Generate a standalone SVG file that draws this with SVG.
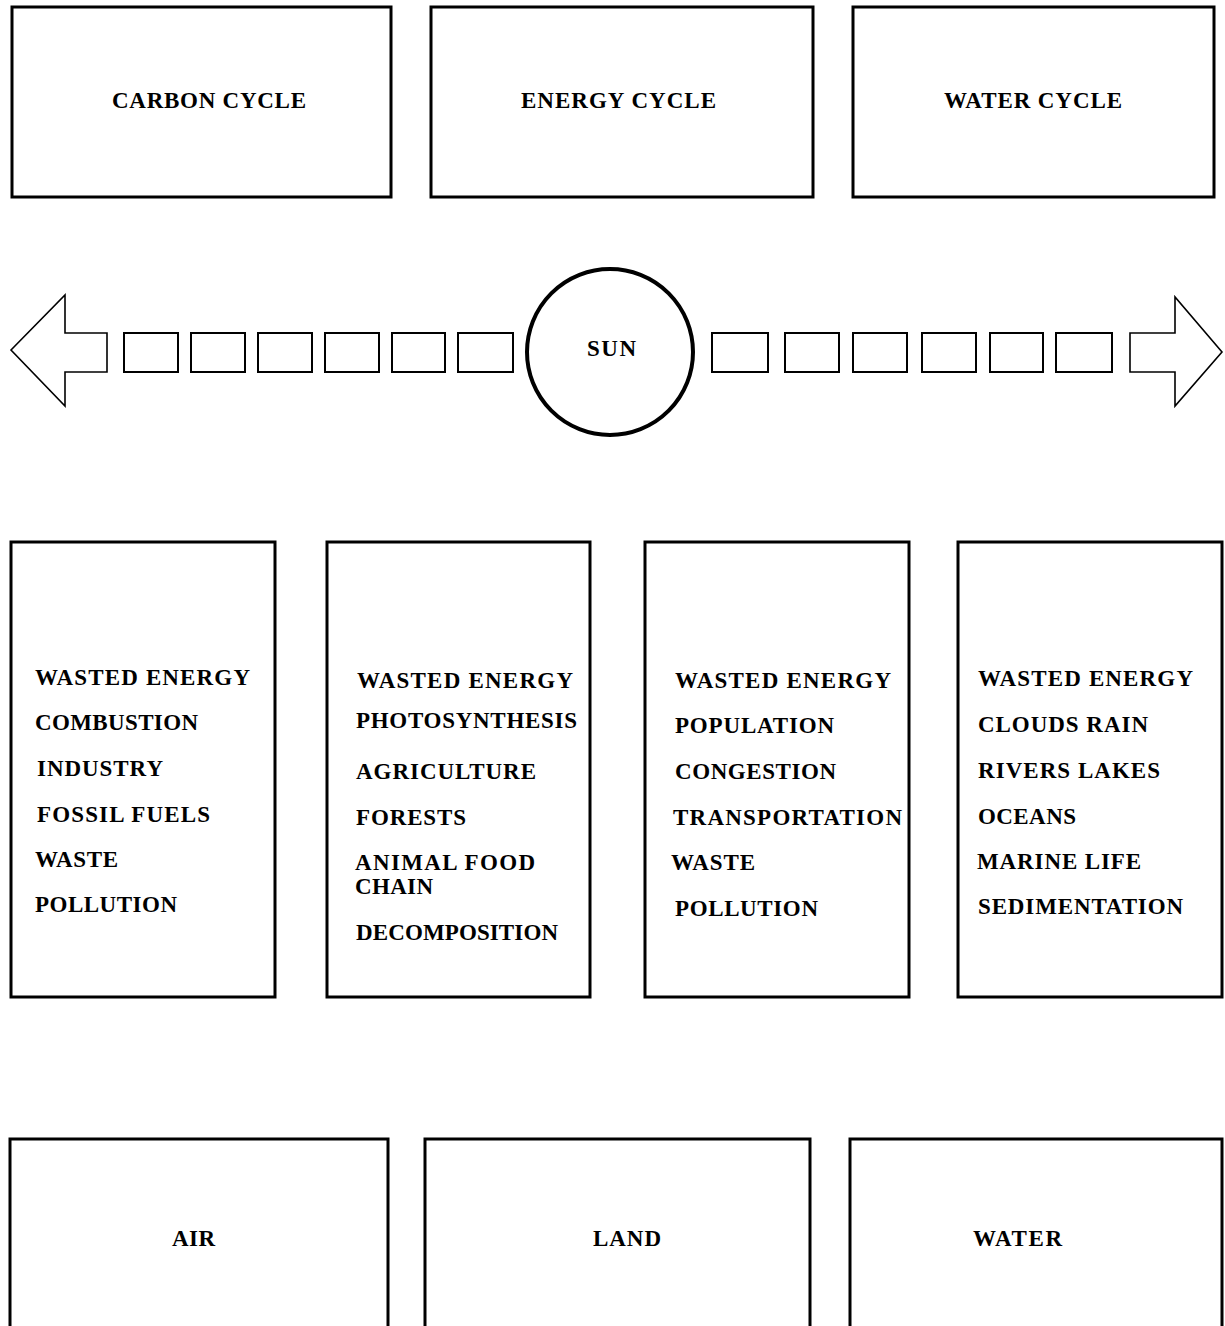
<svg xmlns="http://www.w3.org/2000/svg" width="1225" height="1326" viewBox="0 0 1225 1326">
<style>
  .box { fill: #fff; stroke: #000; stroke-width: 3; }
  .open { fill: none; stroke: #000; stroke-width: 3; }
  .seg { fill: #fff; stroke: #000; stroke-width: 2; }
  .arrow { fill: #fff; stroke: #000; stroke-width: 1.6; stroke-linejoin: miter; }
  .sun { fill: #fff; stroke: #000; stroke-width: 4; }
  text { font-family: "Liberation Serif", "Times New Roman", serif; font-weight: bold; font-size: 23px; fill: #000; }
</style>
<rect width="1225" height="1326" fill="#fff"/>

<g id="connectors">
  <path class="arrow" d="M11,350 L65,295 L65,333 L107,333 L107,372 L65,372 L65,406 Z"/>
  <rect class="seg" x="124" y="333" width="54" height="39"/>
  <rect class="seg" x="191" y="333" width="54" height="39"/>
  <rect class="seg" x="258" y="333" width="54" height="39"/>
  <rect class="seg" x="325" y="333" width="54" height="39"/>
  <rect class="seg" x="392" y="333" width="53" height="39"/>
  <rect class="seg" x="458" y="333" width="55" height="39"/>
  <rect class="seg" x="712" y="333" width="56" height="39"/>
  <rect class="seg" x="785" y="333" width="54" height="39"/>
  <rect class="seg" x="853" y="333" width="54" height="39"/>
  <rect class="seg" x="922" y="333" width="54" height="39"/>
  <rect class="seg" x="990" y="333" width="53" height="39"/>
  <rect class="seg" x="1056" y="333" width="56" height="39"/>
  <path class="arrow" d="M1222,352 L1175,297 L1175,333 L1130,333 L1130,372 L1175,372 L1175,406 Z"/>
</g>

<g id="carbon-cycle">
  <rect class="box" x="12" y="7" width="379" height="190"/>
  <text x="112" y="108" textLength="194" lengthAdjust="spacing">CARBON CYCLE</text>
</g>
<g id="energy-cycle">
  <rect class="box" x="431" y="7" width="382" height="190"/>
  <text x="521" y="108" textLength="195" lengthAdjust="spacing">ENERGY CYCLE</text>
</g>
<g id="water-cycle">
  <rect class="box" x="853" y="7" width="361" height="190"/>
  <text x="944" y="108" textLength="178" lengthAdjust="spacing">WATER CYCLE</text>
</g>

<g id="sun">
  <circle class="sun" cx="610" cy="352" r="83"/>
  <text x="587" y="356" textLength="49" lengthAdjust="spacing">SUN</text>
</g>

<g id="carbon-list">
  <rect class="box" x="11" y="542" width="264" height="455"/>
  <text x="35" y="685" textLength="215" lengthAdjust="spacing">WASTED ENERGY</text>
  <text x="35" y="730" textLength="163" lengthAdjust="spacing">COMBUSTION</text>
  <text x="37" y="776" textLength="126" lengthAdjust="spacing">INDUSTRY</text>
  <text x="37" y="822" textLength="173" lengthAdjust="spacing">FOSSIL FUELS</text>
  <text x="35" y="867" textLength="83" lengthAdjust="spacing">WASTE</text>
  <text x="35" y="912" textLength="142" lengthAdjust="spacing">POLLUTION</text>
</g>

<g id="energy-list">
  <rect class="box" x="327" y="542" width="263" height="455"/>
  <text x="357" y="688" textLength="216" lengthAdjust="spacing">WASTED ENERGY</text>
  <text x="356" y="728" textLength="221" lengthAdjust="spacing">PHOTOSYNTHESIS</text>
  <text x="356" y="779" textLength="180" lengthAdjust="spacing">AGRICULTURE</text>
  <text x="356" y="825" textLength="110" lengthAdjust="spacing">FORESTS</text>
  <text x="355" y="870" textLength="180" lengthAdjust="spacing">ANIMAL FOOD</text>
  <text x="355" y="894" textLength="78" lengthAdjust="spacing">CHAIN</text>
  <text x="356" y="940" textLength="202" lengthAdjust="spacing">DECOMPOSITION</text>
</g>

<g id="population-list">
  <rect class="box" x="645" y="542" width="264" height="455"/>
  <text x="675" y="688" textLength="216" lengthAdjust="spacing">WASTED ENERGY</text>
  <text x="675" y="733" textLength="159" lengthAdjust="spacing">POPULATION</text>
  <text x="675" y="779" textLength="161" lengthAdjust="spacing">CONGESTION</text>
  <text x="673" y="825" textLength="229" lengthAdjust="spacing">TRANSPORTATION</text>
  <text x="671" y="870" textLength="84" lengthAdjust="spacing">WASTE</text>
  <text x="675" y="916" textLength="143" lengthAdjust="spacing">POLLUTION</text>
</g>

<g id="water-list">
  <rect class="box" x="958" y="542" width="264" height="455"/>
  <text x="978" y="686" textLength="215" lengthAdjust="spacing">WASTED ENERGY</text>
  <text x="978" y="732" textLength="170" lengthAdjust="spacing">CLOUDS RAIN</text>
  <text x="978" y="778" textLength="182" lengthAdjust="spacing">RIVERS LAKES</text>
  <text x="978" y="824" textLength="98" lengthAdjust="spacing">OCEANS</text>
  <text x="977" y="869" textLength="164" lengthAdjust="spacing">MARINE LIFE</text>
  <text x="978" y="914" textLength="205" lengthAdjust="spacing">SEDIMENTATION</text>
</g>

<g id="air">
  <path class="open" d="M10,1330 L10,1139 L388,1139 L388,1330"/>
  <text x="172" y="1246" textLength="43" lengthAdjust="spacing">AIR</text>
</g>
<g id="land">
  <path class="open" d="M425,1330 L425,1139 L810,1139 L810,1330"/>
  <text x="593" y="1246" textLength="68" lengthAdjust="spacing">LAND</text>
</g>
<g id="water">
  <path class="open" d="M850,1330 L850,1139 L1222,1139 L1222,1330"/>
  <text x="973" y="1246" textLength="89" lengthAdjust="spacing">WATER</text>
</g>
</svg>
